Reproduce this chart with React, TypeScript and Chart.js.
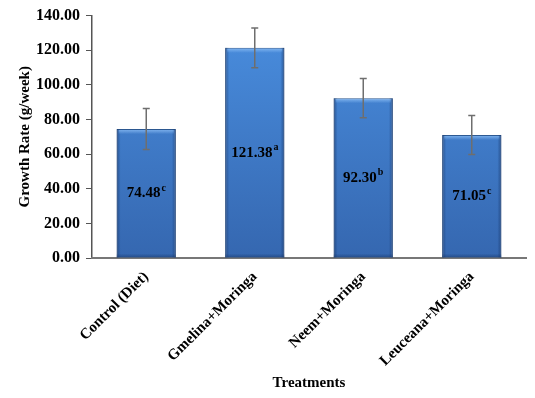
import React, { useEffect, useRef } from 'react';
import { Chart, registerables } from 'chart.js';

Chart.register(...registerables);

const categories = ['Control (Diet)', 'Gmelina+Moringa', 'Neem+Moringa', 'Leuceana+Moringa'];
const growthRate = [74.48, 121.38, 92.3, 71.05];
const errorValues = [11.8, 11.5, 11.3, 11.3];
const letters = ['c', 'a', 'b', 'c'];
const yTicks = [0, 20, 40, 60, 80, 100, 120, 140];

const FONT = '"Liberation Serif", "Times New Roman", serif';

const barDecor = {
  id: 'barDecor',
  afterDatasetsDraw(chart: any) {
    const ctx = chart.ctx;
    const meta = chart.getDatasetMeta(0);
    const yScale = chart.scales.y;
    meta.data.forEach((bar: any, i: number) => {
      const { x, y, base, width } = bar.getProps(['x', 'y', 'base', 'width'], true);
      const left = x - width / 2;
      const right = x + width / 2;
      ctx.save();
      const gl = ctx.createLinearGradient(left, 0, left + 4, 0);
      gl.addColorStop(0, 'rgba(20,50,100,0.55)');
      gl.addColorStop(1, 'rgba(20,50,100,0)');
      ctx.fillStyle = gl;
      ctx.fillRect(left, y, 4, base - y);
      const gr = ctx.createLinearGradient(right - 4, 0, right, 0);
      gr.addColorStop(0, 'rgba(20,50,100,0)');
      gr.addColorStop(1, 'rgba(20,50,100,0.55)');
      ctx.fillStyle = gr;
      ctx.fillRect(right - 4, y, 4, base - y);
      const gt = ctx.createLinearGradient(0, y, 0, y + 5);
      gt.addColorStop(0, 'rgba(140,190,245,0.9)');
      gt.addColorStop(1, 'rgba(140,190,245,0)');
      ctx.fillStyle = gt;
      ctx.fillRect(left + 2, y + 1, width - 4, 5);
      const gb = ctx.createLinearGradient(0, base - 4, 0, base);
      gb.addColorStop(0, 'rgba(20,50,100,0)');
      gb.addColorStop(1, 'rgba(20,50,100,0.5)');
      ctx.fillStyle = gb;
      ctx.fillRect(left, base - 4, width, 4);

      const v = growthRate[i];
      const e = errorValues[i];
      const yTop = yScale.getPixelForValue(v + e);
      const yBot = yScale.getPixelForValue(v - e);
      ctx.strokeStyle = '#6e6e6e';
      ctx.lineWidth = 1.5;
      ctx.beginPath();
      ctx.moveTo(x, yTop);
      ctx.lineTo(x, yBot);
      ctx.moveTo(x - 3.5, yTop);
      ctx.lineTo(x + 3.5, yTop);
      ctx.moveTo(x - 3.5, yBot);
      ctx.lineTo(x + 3.5, yBot);
      ctx.stroke();

      const main = v.toFixed(2);
      const sup = letters[i];
      ctx.font = `bold 15px ${FONT}`;
      const wMain = ctx.measureText(main).width;
      ctx.font = `bold 10px ${FONT}`;
      const wSup = ctx.measureText(sup).width;
      const total = wMain + wSup + 1;
      const cy = (y + base) / 2;
      const startX = x - total / 2;
      ctx.fillStyle = '#000';
      ctx.textBaseline = 'middle';
      ctx.textAlign = 'left';
      ctx.font = `bold 15px ${FONT}`;
      ctx.fillText(main, startX, cy);
      ctx.font = `bold 10px ${FONT}`;
      ctx.fillText(sup, startX + wMain + 1, cy - 5);
      ctx.restore();
    });
  },
};

export default function App() {
  const ref = useRef<HTMLCanvasElement | null>(null);
  useEffect(() => {
    if (!ref.current) return;
    const chart = new Chart(ref.current, {
      type: 'bar',
      data: {
        labels: categories,
        datasets: [
          {
            data: growthRate,
            backgroundColor: (c: any) => {
              const { ctx, chartArea } = c.chart;
              if (!chartArea) return '#3d7ccc';
              const g = ctx.createLinearGradient(0, chartArea.top, 0, chartArea.bottom);
              g.addColorStop(0, '#4a8fe0');
              g.addColorStop(1, '#3567b0');
              return g;
            },
            borderColor: '#2b5790',
            borderWidth: 1,
            barPercentage: 0.545,
            categoryPercentage: 1,
          },
        ],
      },
      options: {
        animation: false,
        responsive: true,
        maintainAspectRatio: false,
        layout: { padding: { top: 13, right: 9, left: 0, bottom: 0 } },
        plugins: { legend: { display: false }, tooltip: { enabled: false } },
        scales: {
          y: {
            min: 0,
            max: 140,
            afterBuildTicks: (s: any) => {
              s.ticks = yTicks.map((v) => ({ value: v }));
            },
            afterFit: (s: any) => {
              s.width = 92;
            },
            ticks: {
              color: '#000',
              font: { family: FONT, size: 16, weight: 'bold' },
              callback: (v: any) => Number(v).toFixed(2),
              padding: 6,
            },
            grid: { drawOnChartArea: false, drawTicks: true, tickLength: 6, color: '#555' },
            border: { display: true, color: '#555', width: 1.5 },
            title: {
              display: true,
              text: 'Growth Rate (g/week)',
              color: '#000',
              font: { family: FONT, size: 15, weight: 'bold' },
              padding: { top: 16, bottom: 0 },
            },
          },
          x: {
            afterFit: (s: any) => {
              s.height = 140;
            },
            ticks: {
              color: '#000',
              maxRotation: 45,
              minRotation: 45,
              font: { family: FONT, size: 15, weight: 'bold' },
              padding: 2,
            },
            grid: { display: false },
            border: { display: true, color: '#777', width: 2 },
            title: {
              display: true,
              text: 'Treatments',
              color: '#000',
              font: { family: FONT, size: 15, weight: 'bold' },
              padding: { top: 4, bottom: 6 },
            },
          },
        },
      },
      plugins: [barDecor],
    } as any);
    return () => chart.destroy();
  }, []);
  return (
    <div style={{ position: 'fixed', left: 0, top: 0, width: 535, height: 398, background: '#fff' }}>
      <canvas ref={ref} />
    </div>
  );
}
